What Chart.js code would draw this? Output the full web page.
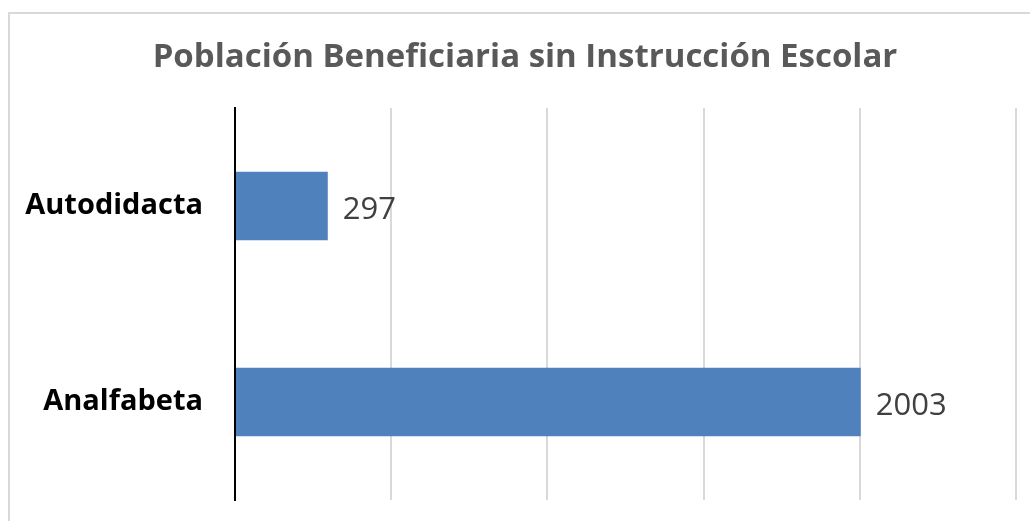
<!DOCTYPE html>
<html>
<head>
<meta charset="utf-8">
<script src="https://cdn.jsdelivr.net/npm/chart.js@4/dist/chart.umd.min.js"></script>
<style>
  html, body { margin: 0; padding: 0; background: #fff; }
  #wrap { position: relative; width: 1030px; height: 521px; overflow: hidden; }
  #frame { position: absolute; left: 8px; top: 12px; width: 1100px; height: 600px; border: 2px solid #d9d9d9; box-sizing: border-box; }
  canvas { position: absolute; left: 0; top: 0; }
</style>
</head>
<body>
<div id="wrap">
  <div id="frame"></div>
  <canvas id="c" width="1030" height="521"></canvas>
</div>
<script>
const titleText = 'Población Beneficiaria sin Instrucción Escolar';
const categories = ['Autodidacta', 'Analfabeta'];
const values = [297, 2003];
const axisMax = 2500;
const axisStep = 500;

const FONT = '"Open Sans", "DejaVu Sans", sans-serif';

const dataLabels = {
  id: 'dataLabels',
  afterDatasetsDraw(chart) {
    const ctx = chart.ctx;
    const meta = chart.getDatasetMeta(0);
    ctx.save();
    ctx.font = '31px ' + FONT;
    ctx.fillStyle = '#404040';
    ctx.textAlign = 'left';
    ctx.textBaseline = 'middle';
    meta.data.forEach((bar, i) => {
      ctx.fillText(String(values[i]), bar.x + 15, bar.y + 4);
    });
    ctx.restore();
  }
};

const chartTitle = {
  id: 'chartTitle',
  afterDraw(chart) {
    const ctx = chart.ctx;
    ctx.save();
    ctx.font = 'bold 33px ' + FONT;
    ctx.fillStyle = '#595959';
    ctx.textAlign = 'center';
    ctx.textBaseline = 'middle';
    ctx.fillText(titleText, 525, 58);
    ctx.restore();
  }
};

new Chart(document.getElementById('c'), {
  type: 'bar',
  data: {
    labels: categories,
    datasets: [{
      data: values,
      backgroundColor: '#4f81bd',
      borderWidth: 0,
      barPercentage: 0.35,
      categoryPercentage: 1.0
    }]
  },
  options: {
    indexAxis: 'y',
    responsive: false,
    animation: false,
    devicePixelRatio: 1,
    layout: { padding: { left: 0, right: 14, top: 108, bottom: 21 } },
    plugins: {
      legend: { display: false },
      tooltip: { enabled: false },
      title: { display: false }
    },
    scales: {
      x: {
        min: 0,
        max: axisMax,
        afterFit(scale) { scale.height = 0; scale.paddingLeft = 0; scale.paddingRight = 0; },
        ticks: { display: false, stepSize: axisStep },
        grid: {
          drawTicks: false,
          lineWidth: 2,
          color: (c) => (c.tick && c.tick.value === 0) ? 'rgba(0,0,0,0)' : '#d9d9d9'
        },
        border: { display: false }
      },
      y: {
        afterFit(scale) { scale.width = 235; scale.paddingTop = 0; scale.paddingBottom = 0; },
        ticks: {
          color: '#000000',
          padding: 32,
          font: { family: FONT, size: 29, weight: 'bold' }
        },
        grid: { display: false, drawTicks: false },
        border: { display: true, color: '#000000', width: 2 }
      }
    }
  },
  plugins: [dataLabels, chartTitle]
});
</script>
</body>
</html>
